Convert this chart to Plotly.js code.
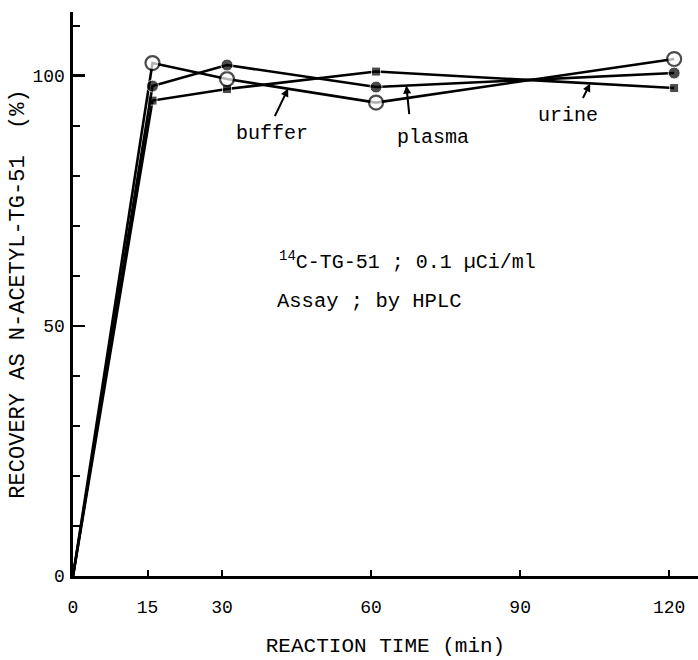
<!DOCTYPE html>
<html>
<head>
<meta charset="utf-8">
<script src="https://cdn.plot.ly/plotly-3.0.1.min.js"></script>
<style>html,body{margin:0;padding:0;background:#fff;}#chart{width:698px;height:660px;}</style>
</head>
<body>
<div id="chart"></div>
<script>
// Reaction time (min) at which samples were taken
const times = [0, 16, 31, 61, 121];
// Recovery as N-acetyl-TG-51 (%)
const buffer = [0, 102.5, 99.3, 94.6, 103.3];   // open circles
const plasma = [0, 97.9, 102.1, 97.7, 100.5];   // filled circles
const urine  = [0, 95.0, 97.3, 100.8, 97.5];    // filled squares
const xTickVals = [0, 15, 30, 60, 90, 120];
const yTickVals = [0, 50, 100];

const FONT = 'Liberation Mono, DejaVu Sans Mono, monospace';

function sizes(s) { return times.map((t, i) => i === 0 ? 0 : s); }

const traces = [
  {x: times, y: urine, name: 'urine', mode: 'lines+markers', cliponaxis: false,
   line: {color: '#000', width: 2.6},
   marker: {symbol: 'square', size: sizes(9), color: '#000'}},
  {x: times, y: buffer, name: 'buffer', mode: 'lines+markers', cliponaxis: false,
   line: {color: '#000', width: 2.6},
   marker: {symbol: 'circle', size: sizes(14), color: '#fff', line: {color: '#000', width: 2.2}}},
  {x: times, y: plasma, name: 'plasma', mode: 'lines+markers', cliponaxis: false,
   line: {color: '#000', width: 2.6},
   marker: {symbol: 'circle', size: sizes(12), color: '#000'}}
];

const layout = {
  width: 698, height: 660,
  margin: {l: 73, r: 0, t: 12, b: 84},
  paper_bgcolor: '#fff', plot_bgcolor: '#fff',
  showlegend: false,
  font: {family: FONT, color: '#000', size: 17},
  xaxis: {
    range: [0, 125.8], tickvals: xTickVals, ticktext: xTickVals.map(String),
    ticks: 'inside', ticklen: 6, tickwidth: 2, tickcolor: '#000',
    showline: true, linecolor: '#000', linewidth: 2.6, mirror: false,
    showgrid: false, zeroline: false, ticklabelstandoff: 13,
    tickfont: {family: FONT, size: 18},
    title: {text: 'REACTION TIME (min)', font: {family: FONT, size: 21}, standoff: 20}
  },
  yaxis: {
    range: [0, 112.7], tickvals: yTickVals, ticktext: yTickVals.map(String),
    ticks: 'inside', ticklen: 12, tickwidth: 2.4, tickcolor: '#000',
    minor: {dtick: 10, ticks: 'inside', ticklen: 7, tickwidth: 2, tickcolor: '#000'},
    showline: true, linecolor: '#000', linewidth: 2.6, mirror: false,
    showgrid: false, zeroline: false, ticklabelstandoff: 2,
    tickfont: {family: FONT, size: 18},
    title: {text: 'RECOVERY AS N-ACETYL-TG-51  (%)', font: {family: FONT, size: 22}, standoff: 2}
  },
  annotations: [
    {x: 43.3, y: 97.4, xref: 'x', yref: 'y', text: '', showarrow: true, axref: 'pixel', ayref: 'pixel',
     ax: -14, ay: 29, arrowhead: 2, arrowsize: 0.8, arrowwidth: 2, arrowcolor: '#000', standoff: 0},
    {x: 67.1, y: 98.0, xref: 'x', yref: 'y', text: '', showarrow: true, axref: 'pixel', ayref: 'pixel',
     ax: 3, ay: 30, arrowhead: 2, arrowsize: 0.8, arrowwidth: 2, arrowcolor: '#000', standoff: 0},
    {x: 104.1, y: 98.4, xref: 'x', yref: 'y', text: '', showarrow: true, axref: 'pixel', ayref: 'pixel',
     ax: -8, ay: 16, arrowhead: 2, arrowsize: 0.8, arrowwidth: 2, arrowcolor: '#000', standoff: 0},
    {x: 40, y: 88.5, xref: 'x', yref: 'y', text: 'buffer', showarrow: false, font: {family: FONT, size: 20}},
    {x: 72.5, y: 87.7, xref: 'x', yref: 'y', text: 'plasma', showarrow: false, font: {family: FONT, size: 20}},
    {x: 99.7, y: 92, xref: 'x', yref: 'y', text: 'urine', showarrow: false, font: {family: FONT, size: 20}},
    {x: 41, y: 63, xref: 'x', yref: 'y', xanchor: 'left', text: '<sup>14</sup>C-TG-51 ; 0.1 µCi/ml', showarrow: false, font: {family: FONT, size: 20}},
    {x: 40.6, y: 54.8, xref: 'x', yref: 'y', xanchor: 'left', text: 'Assay ; by HPLC', showarrow: false, font: {family: FONT, size: 20.5}}
  ]
};

Plotly.newPlot('chart', traces, layout, {displayModeBar: false, staticPlot: true});
</script>
</body>
</html>
